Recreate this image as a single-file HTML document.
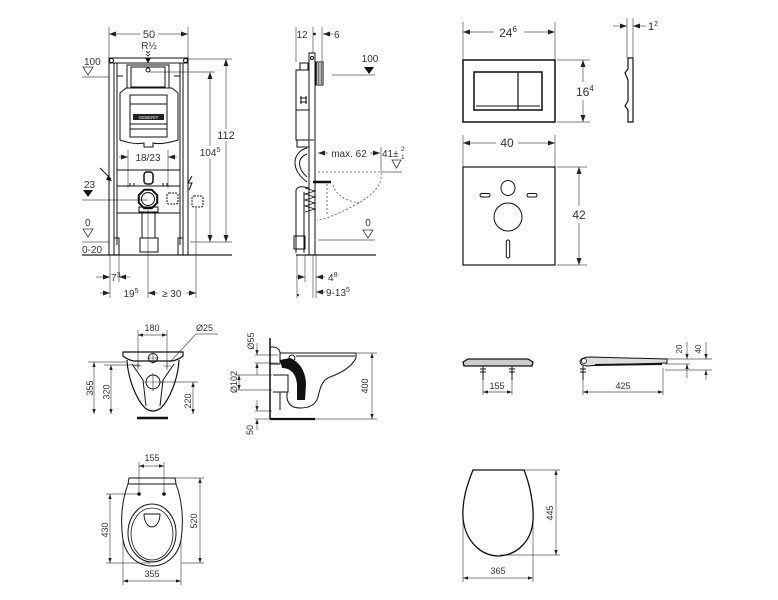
<!DOCTYPE html>
<html><head><meta charset="utf-8"><style>
html,body{margin:0;padding:0;background:#fff;}
svg{display:block;}
text{font-family:"Liberation Sans",sans-serif;fill:#333;}
.d{stroke:#555;stroke-width:0.7;fill:none;}
.o{stroke:#111;stroke-width:1;fill:none;}
</style></head><body>
<svg width="778" height="600" viewBox="0 0 778 600" xmlns="http://www.w3.org/2000/svg">
<defs>
<marker id="a" viewBox="0 0 7 5" refX="7" refY="2.5" markerWidth="7" markerHeight="5" orient="auto-start-reverse" markerUnits="userSpaceOnUse"><path d="M0,0L7,2.5L0,5z" fill="#222"/></marker>
<marker id="b" viewBox="0 0 5 3.4" refX="5" refY="1.7" markerWidth="5" markerHeight="3.4" orient="auto-start-reverse" markerUnits="userSpaceOnUse"><path d="M0,0L5,1.7L0,3.4z" fill="#222"/></marker>
</defs>
<rect width="778" height="600" fill="#fff"/>

<!-- ============ FRAME FRONT VIEW ============ -->
<g class="d">
<line x1="109" y1="27" x2="109" y2="58"/>
<line x1="188" y1="27" x2="188" y2="58"/>
<line x1="140" y1="34" x2="109" y2="34" marker-end="url(#a)"/>
<line x1="158" y1="34" x2="188" y2="34" marker-end="url(#a)"/>
<line x1="188" y1="59" x2="232" y2="59"/>
<line x1="190" y1="242" x2="232" y2="242"/>
<line x1="226" y1="129" x2="226" y2="59" marker-end="url(#a)"/>
<line x1="226" y1="141" x2="226" y2="242" marker-end="url(#a)"/>
<line x1="150" y1="72" x2="215" y2="72"/>
<line x1="210" y1="146" x2="210" y2="72" marker-end="url(#a)"/>
<line x1="210" y1="158" x2="210" y2="242" marker-end="url(#a)"/>
<line x1="82" y1="77" x2="109" y2="77"/>
<line x1="82" y1="200" x2="148" y2="200"/>
<line x1="82" y1="242" x2="109" y2="242"/>
<line x1="119" y1="157" x2="128" y2="157" marker-end="url(#a)"/>
<line x1="177" y1="157" x2="168" y2="157" marker-end="url(#a)"/>
<line x1="128" y1="150" x2="128" y2="188"/>
<line x1="168" y1="150" x2="168" y2="188"/>
<line x1="110" y1="255" x2="110" y2="298"/>
<line x1="119" y1="255" x2="119" y2="282"/>
<line x1="148" y1="210" x2="148" y2="298"/>
<line x1="196" y1="208" x2="196" y2="298"/>
<line x1="96" y1="277" x2="110" y2="277" marker-end="url(#a)"/>
<line x1="130" y1="277" x2="119" y2="277" marker-end="url(#a)"/>
<line x1="100" y1="293" x2="110" y2="293" marker-end="url(#a)"/>
<line x1="158" y1="293" x2="148" y2="293" marker-end="url(#a)"/>
<line x1="186" y1="293" x2="196" y2="293" marker-end="url(#a)"/>
</g>
<line x1="82" y1="255" x2="232" y2="255" stroke="#222" stroke-width="1.2"/>
<path d="M83,67L93,67L88,75z" fill="none" stroke="#333" stroke-width="0.8"/>
<path d="M83,190L93,190L88,197z" fill="#111"/>
<path d="M83,229L93,229L88,237z" fill="none" stroke="#333" stroke-width="0.8"/>
<text x="149" y="38" font-size="11" text-anchor="middle">50</text>
<text x="149" y="49" font-size="10" text-anchor="middle">R½</text>
<text x="84" y="65" font-size="10">100</text>
<text x="84" y="188" font-size="10">23</text>
<text x="85" y="226" font-size="10">0</text>
<text x="82" y="253" font-size="10">0-20</text>
<text x="226" y="139" font-size="11" text-anchor="middle">112</text>
<text x="210" y="156" font-size="10" text-anchor="middle">104<tspan font-size="7" dy="-4">5</tspan></text>
<text x="148" y="161" font-size="10" text-anchor="middle">18/23</text>
<text x="111" y="281" font-size="10">7<tspan font-size="7" dy="-4">3</tspan></text>
<text x="131" y="297" font-size="10" text-anchor="middle">19<tspan font-size="7" dy="-4">5</tspan></text>
<text x="162" y="297" font-size="10">≥ 30</text>
<g class="o">
<rect x="109" y="58" width="79" height="5"/>
<rect x="109" y="63" width="5" height="192"/>
<rect x="183" y="63" width="5" height="192"/>
<line x1="117" y1="63" x2="117" y2="245"/>
<line x1="180" y1="63" x2="180" y2="245"/>
<circle cx="111.5" cy="60.5" r="2"/>
<circle cx="185.5" cy="60.5" r="2"/>
<rect x="127" y="65" width="42" height="23"/>
<rect x="131" y="67" width="34" height="20"/>
<line x1="117" y1="76" x2="123" y2="76"/>
<line x1="174" y1="76" x2="180" y2="76"/>
<circle cx="148" cy="70" r="2"/>
<path d="M120,93L126,88L172,88L178,93L178,140Q162,145 153,143L153,147L144,147L144,143Q134,145 120,140z"/>
<rect x="130" y="95" width="37" height="42"/>
<line x1="130" y1="104" x2="167" y2="104"/>
<line x1="130" y1="124" x2="167" y2="124"/>
<line x1="130" y1="129" x2="167" y2="129"/>
<line x1="117" y1="170" x2="180" y2="170"/>
<line x1="117" y1="186" x2="180" y2="186"/>
<line x1="117" y1="213" x2="180" y2="213"/>
<line x1="130" y1="183" x2="130" y2="186"/><line x1="134" y1="183" x2="134" y2="186"/>
<line x1="163" y1="183" x2="163" y2="186"/><line x1="167" y1="183" x2="167" y2="186"/>
<rect x="144" y="172" width="9" height="12" rx="3" stroke-width="1.5"/>
<polygon points="157.2,202.8 151.8,208.2 144.2,208.2 138.8,202.8 138.8,195.2 144.2,189.8 151.8,189.8 157.2,195.2" stroke-width="2"/>
<circle cx="148" cy="199" r="6.5"/>
<rect x="139" y="207" width="19" height="5"/>
<rect x="142" y="213" width="13" height="25"/>
<rect x="140" y="238" width="18" height="14"/>
<rect x="114" y="238" width="5" height="17"/>
<rect x="178" y="238" width="5" height="17"/>
<rect x="167" y="193" width="11" height="11" rx="2" stroke-dasharray="2,1"/>
<rect x="192" y="196" width="11" height="11" rx="2" stroke-dasharray="2,1"/>
<path d="M192,176L188,183L192,183L189,190"/>
<path d="M100,168L111,179"/>
</g>
<rect x="133" y="114" width="31" height="6" fill="#222"/>
<text x="148.5" y="119" font-size="4.5" text-anchor="middle" style="fill:#fff">GEBERIT</text>
<path d="M145,58L151,58L148,63z" fill="#111"/>
<path d="M146,51L148,53L150,51M146,54L148,56L150,54" stroke="#111" stroke-width="0.8" fill="none"/>
<path d="M108,176L112,181L106,180z" fill="#111"/>

<!-- ============ FRAME SIDE VIEW ============ -->
<g class="d">
<line x1="296" y1="27" x2="296" y2="62"/>
<line x1="313" y1="27" x2="313" y2="53"/>
<line x1="322" y1="27" x2="322" y2="62"/>
<line x1="333" y1="34" x2="323" y2="34" marker-end="url(#a)"/>
<line x1="332" y1="75" x2="375" y2="75"/>
<line x1="328" y1="153" x2="318" y2="153" marker-end="url(#a)"/>
<line x1="370" y1="153" x2="380" y2="153" marker-end="url(#a)"/>
<line x1="381" y1="147" x2="381" y2="172"/>
<line x1="381" y1="172" x2="402" y2="172"/>
<line x1="318" y1="240" x2="375" y2="240"/>
<line x1="297" y1="255" x2="297" y2="298"/>
<line x1="305" y1="255" x2="305" y2="282"/>
<line x1="313" y1="255" x2="313" y2="298"/>
<line x1="316" y1="255" x2="316" y2="298"/>
<line x1="296" y1="277" x2="305" y2="277" marker-end="url(#a)"/>
<line x1="325" y1="277" x2="316" y2="277" marker-end="url(#a)"/>
<line x1="325" y1="292" x2="316" y2="292" marker-end="url(#a)"/>
</g>
<line x1="296" y1="255" x2="376" y2="255" stroke="#222" stroke-width="1.2"/>
<circle cx="314.5" cy="34" r="1.4" fill="#222"/>
<circle cx="298" cy="295" r="1" fill="#222"/>
<text x="302" y="38" font-size="10" text-anchor="middle">12</text>
<text x="334" y="38" font-size="10">6</text>
<text x="370" y="62" font-size="10" text-anchor="middle">100</text>
<path d="M364,67L374,67L369,74z" fill="#111"/>
<text x="349" y="157" font-size="10" text-anchor="middle">max. 62</text>
<text x="382" y="157" font-size="10">41±</text>
<text x="401" y="151" font-size="6.5">2</text>
<text x="401" y="159" font-size="6.5">1</text>
<path d="M392,160L401,160L396.5,168z" fill="none" stroke="#333" stroke-width="0.8"/>
<text x="368" y="226" font-size="10" text-anchor="middle">0</text>
<path d="M363,230L373,230L368,238z" fill="none" stroke="#333" stroke-width="0.8"/>
<text x="328" y="281" font-size="10">4<tspan font-size="7" dy="-4">8</tspan></text>
<text x="326" y="296" font-size="10">9-13<tspan font-size="7" dy="-4">5</tspan></text>
<g class="o">
<rect x="309" y="53" width="6" height="202"/>
<circle cx="312" cy="58" r="1.5"/>
<line x1="310" y1="140" x2="314" y2="140"/>
<path d="M300,70L300,63L308,63L308,70M296,70L309,70L309,140L296,140z"/>
<path d="M300,98L307,98M300,102L307,102M301,96L301,104M306,96L306,104"/>
<line x1="296" y1="110" x2="309" y2="110"/>
<path d="M297,140L297,147L309,147"/>
<path d="M307,148C292,152 290,170 307,182M307,154C297,158 297,168 307,177"/>
<rect x="316" y="62" width="7" height="23"/>
<path d="M317,63V84M318.5,63V84M320,63V84M321.5,63V84" stroke-width="0.6"/>
<path d="M296,190L296,253M304,192L304,253M296,190C298,186 302,186 309,188"/>
<rect x="294" y="236" width="11" height="13"/>
<path d="M305,188L315,191L305,194L315,197L305,200L315,203L305,206L315,209L305,212" stroke-width="0.8"/>
</g>
<line x1="313" y1="182" x2="331" y2="182" stroke="#111" stroke-width="2.5"/>
<g stroke="#555" stroke-width="0.8" fill="none" stroke-dasharray="2,2">
<path d="M318,172L381,172C383,185 372,196 355,205C342,212 330,218 317,220"/>
<path d="M333,185C336,195 345,201 360,203"/>
<path d="M327,184L327,214"/>
</g>

<!-- ============ FLUSH PLATE ============ -->
<g class="d">
<line x1="463" y1="22" x2="463" y2="60"/>
<line x1="555" y1="22" x2="555" y2="60"/>
<line x1="494" y1="32" x2="463" y2="32" marker-end="url(#a)"/>
<line x1="524" y1="32" x2="555" y2="32" marker-end="url(#a)"/>
<line x1="557" y1="60" x2="590" y2="60"/>
<line x1="557" y1="122" x2="590" y2="122"/>
<line x1="583" y1="82" x2="583" y2="60" marker-end="url(#a)"/>
<line x1="583" y1="100" x2="583" y2="122" marker-end="url(#a)"/>
<line x1="627" y1="18" x2="627" y2="58"/>
<line x1="633" y1="18" x2="633" y2="58"/>
<line x1="613" y1="26" x2="627" y2="26" marker-end="url(#a)"/>
<line x1="646" y1="26" x2="633" y2="26" marker-end="url(#a)"/>
<line x1="463" y1="135" x2="463" y2="167"/>
<line x1="555" y1="135" x2="555" y2="167"/>
<line x1="496" y1="143" x2="463" y2="143" marker-end="url(#a)"/>
<line x1="518" y1="143" x2="555" y2="143" marker-end="url(#a)"/>
<line x1="557" y1="167" x2="587" y2="167"/>
<line x1="557" y1="265" x2="587" y2="265"/>
<line x1="579" y1="206" x2="579" y2="167" marker-end="url(#a)"/>
<line x1="579" y1="223" x2="579" y2="265" marker-end="url(#a)"/>
</g>
<text x="508" y="37" font-size="12" text-anchor="middle">24<tspan font-size="8" dy="-5">6</tspan></text>
<text x="576" y="96" font-size="12">16<tspan font-size="8" dy="-5">4</tspan></text>
<text x="648" y="30" font-size="11">1<tspan font-size="7" dy="-4">2</tspan></text>
<text x="507" y="147" font-size="12" text-anchor="middle">40</text>
<text x="579" y="219" font-size="12" text-anchor="middle">42</text>
<g class="o">
<rect x="463" y="60" width="92" height="62" stroke-width="1.5"/>
<rect x="474" y="72" width="68" height="38" stroke-width="1.5"/>
<line x1="518" y1="72" x2="518" y2="110" stroke-width="1.2"/>
<path d="M476,106L540,106"/>
<path d="M628,58L633,58L633,122L628,122L628,110L625,106L628,101L628,80L625,73L628,69z" stroke-width="1.2"/>
<rect x="463" y="167" width="92" height="98" stroke-width="1.2"/>
<ellipse cx="508" cy="188" rx="7" ry="7.5"/>
<rect x="480" y="193.5" width="10" height="3.5" rx="1.7"/>
<rect x="527" y="193.5" width="10" height="3.5" rx="1.7"/>
<circle cx="508" cy="217" r="14"/>
<rect x="506.3" y="240" width="3.4" height="18" rx="1.7"/>
</g>

<!-- ============ BOWL FRONT ============ -->
<g class="d">
<line x1="138" y1="330" x2="138" y2="368"/>
<line x1="167" y1="330" x2="167" y2="368"/>
<line x1="138" y1="335" x2="167" y2="335" marker-start="url(#b)" marker-end="url(#b)"/>
<polyline points="218,334 196,334 170,362"/>
<line x1="88" y1="362" x2="126" y2="362"/>
<line x1="104" y1="365" x2="140" y2="365"/>
<line x1="160" y1="382" x2="198" y2="382"/>
<line x1="94" y1="362" x2="94" y2="414" marker-start="url(#b)" marker-end="url(#b)"/>
<line x1="111" y1="365" x2="111" y2="414" marker-start="url(#b)" marker-end="url(#b)"/>
<line x1="193" y1="382" x2="193" y2="414" marker-start="url(#b)" marker-end="url(#b)"/>
</g>
<text x="152" y="331" font-size="9" text-anchor="middle">180</text>
<text x="196" y="331" font-size="9">Ø25</text>
<text x="93" y="388" font-size="9" text-anchor="middle" transform="rotate(-90 93 388)">355</text>
<text x="109.5" y="392" font-size="9" text-anchor="middle" transform="rotate(-90 109.5 392)">320</text>
<text x="191" y="401" font-size="9" text-anchor="middle" transform="rotate(-90 191 401)">220</text>
<g class="o">
<path d="M123,352L183,352L183,356Q178,360 172,361L134,361Q128,360 123,356z" stroke-width="1.2"/>
<path d="M127,360C128,380 137,400 145,408Q153,414 161,408C169,400 178,380 179,360" stroke-width="1.2"/>
<path d="M132,364L143,380L146,406M174,364L163,380L160,406"/>
<circle cx="153" cy="358" r="4.5"/>
<circle cx="153" cy="382" r="7"/>
</g>
<g stroke="#333" stroke-width="0.6">
<path d="M147,358H159M153,352V364M144,382H162M153,373V391M134,366H142M138,362V370M163,366H171M167,362V370"/>
</g>
<line x1="137" y1="418" x2="168" y2="418" stroke="#111" stroke-width="2.5"/>

<!-- ============ BOWL SIDE ============ -->
<g class="d">
<line x1="255" y1="355" x2="278" y2="355"/>
<line x1="255" y1="363" x2="278" y2="363"/>
<line x1="257" y1="343" x2="257" y2="355" marker-end="url(#b)"/>
<line x1="257" y1="375" x2="257" y2="363" marker-end="url(#b)"/>
<line x1="236" y1="375" x2="272" y2="375"/>
<line x1="236" y1="390" x2="272" y2="390"/>
<line x1="239" y1="375" x2="239" y2="390" marker-start="url(#b)" marker-end="url(#b)"/>
<line x1="255" y1="411" x2="272" y2="411"/>
<line x1="255" y1="419" x2="270" y2="419"/>
<line x1="257" y1="400" x2="257" y2="411" marker-end="url(#b)"/>
<line x1="257" y1="430" x2="257" y2="419" marker-end="url(#b)"/>
<line x1="357" y1="353" x2="377" y2="353"/>
<line x1="315" y1="419" x2="377" y2="419"/>
<line x1="372" y1="353" x2="372" y2="419" marker-start="url(#b)" marker-end="url(#b)"/>
</g>
<text x="254" y="341" font-size="9" text-anchor="middle" transform="rotate(-90 254 341)">Ø55</text>
<text x="237" y="382" font-size="9" text-anchor="middle" transform="rotate(-90 237 382)">Ø102</text>
<text x="253" y="430" font-size="9" text-anchor="middle" transform="rotate(-90 253 430)">50</text>
<text x="368" y="386" font-size="9" text-anchor="middle" transform="rotate(-90 368 386)">400</text>
<line x1="270" y1="338" x2="270" y2="419" stroke="#111" stroke-width="1.5"/>
<line x1="270" y1="419" x2="315" y2="419" stroke="#111" stroke-width="2.2"/>
<g class="o" stroke-width="1.2">
<path d="M280,353L356,353L356,358C352,366 344,372 330,377C322,380 320,388 318,397C316,404 310,408 300,408C292,408 288,404 287,398L287,392"/>
<path d="M296,356L355,356"/>
<path d="M270,347Q278,346 280,352L280,364L270,364"/>
<path d="M273,375L288,375L288,392L273,392"/>
<path d="M280,392L280,410"/>
<circle cx="292" cy="358" r="3"/>
</g>
<path d="M280,360L290,358C300,362 306,372 306,385L305,400L297,400L297,386C297,376 292,368 282,368z" fill="#111"/>

<!-- ============ SEAT SIDE VIEWS ============ -->
<g class="d">
<line x1="483" y1="378" x2="483" y2="395"/>
<line x1="512" y1="378" x2="512" y2="395"/>
<line x1="483" y1="392" x2="512" y2="392" marker-start="url(#b)" marker-end="url(#b)"/>
<line x1="583" y1="380" x2="583" y2="395"/>
<line x1="663" y1="368" x2="663" y2="395"/>
<line x1="583" y1="392" x2="663" y2="392" marker-start="url(#b)" marker-end="url(#b)"/>
<line x1="665" y1="359" x2="712" y2="359"/>
<line x1="665" y1="364" x2="690" y2="364"/>
<line x1="665" y1="370" x2="712" y2="370"/>
<line x1="687" y1="342" x2="687" y2="359" marker-end="url(#b)"/>
<line x1="687" y1="378" x2="687" y2="364" marker-end="url(#b)"/>
<line x1="706" y1="342" x2="706" y2="359" marker-end="url(#b)"/>
<line x1="706" y1="380" x2="706" y2="370" marker-end="url(#b)"/>
</g>
<text x="497" y="389" font-size="9" text-anchor="middle">155</text>
<text x="623" y="389" font-size="9" text-anchor="middle">425</text>
<text x="682" y="349" font-size="8" text-anchor="middle" transform="rotate(-90 682 349)">20</text>
<text x="701" y="349" font-size="8" text-anchor="middle" transform="rotate(-90 701 349)">40</text>
<path d="M463,362L468,359L528,359L533,362L532,366L464,366z" fill="#ccc" stroke="#111" stroke-width="1.3"/>
<g stroke="#111" stroke-width="1" fill="none">
<path d="M483,366V380M512,366V380M480,369H486M480,372H486M509,369H515M509,372H515"/>
<path d="M583,366V380M580,369H586M580,372H586"/>
</g>
<path d="M580,361Q582,357 590,357L667,359L667,363L600,365L588,366Q580,366 580,361z" fill="#ddd" stroke="#111" stroke-width="1"/>
<line x1="595" y1="365" x2="662" y2="364" stroke="#111" stroke-width="2"/>
<circle cx="584" cy="361" r="2.5" fill="#fff" stroke="#111" stroke-width="0.8"/>

<!-- ============ BOWL TOP ============ -->
<g class="d">
<line x1="139" y1="462" x2="139" y2="494"/>
<line x1="164" y1="462" x2="164" y2="494"/>
<line x1="139" y1="466" x2="164" y2="466" marker-start="url(#b)" marker-end="url(#b)"/>
<line x1="175" y1="478" x2="204" y2="478"/>
<line x1="181" y1="563" x2="204" y2="563"/>
<line x1="200" y1="478" x2="200" y2="563" marker-start="url(#b)" marker-end="url(#b)"/>
<line x1="106" y1="494" x2="137" y2="494"/>
<line x1="106" y1="563" x2="150" y2="563"/>
<line x1="110" y1="494" x2="110" y2="563" marker-start="url(#b)" marker-end="url(#b)"/>
<line x1="123" y1="540" x2="123" y2="585"/>
<line x1="181" y1="540" x2="181" y2="585"/>
<line x1="123" y1="581" x2="181" y2="581" marker-start="url(#b)" marker-end="url(#b)"/>
</g>
<text x="152" y="461" font-size="9" text-anchor="middle">155</text>
<text x="197" y="521" font-size="9" text-anchor="middle" transform="rotate(-90 197 521)">520</text>
<text x="108" y="530" font-size="9" text-anchor="middle" transform="rotate(-90 108 530)">430</text>
<text x="152" y="577" font-size="9" text-anchor="middle">355</text>
<g class="o" stroke-width="1.2">
<path d="M129,478L175,478L176,484C182,500 184,520 181,540C178,556 166,566 152,566C138,566 126,556 123,540C120,520 122,500 128,484z"/>
<line x1="128" y1="484" x2="176" y2="484"/>
<ellipse cx="152" cy="533" rx="24" ry="29"/>
<ellipse cx="152" cy="534" rx="21" ry="26" stroke-width="0.8"/>
<path d="M144,514L160,514C160,522 156,527 152,527C148,527 144,522 144,514z" stroke-width="0.9"/>
</g>
<circle cx="139" cy="494" r="1.8" fill="#111"/>
<circle cx="164" cy="494" r="1.8" fill="#111"/>

<!-- ============ SEAT TOP ============ -->
<g class="d">
<line x1="524" y1="470" x2="560" y2="470"/>
<line x1="500" y1="555" x2="560" y2="555"/>
<line x1="556" y1="470" x2="556" y2="555" marker-start="url(#b)" marker-end="url(#b)"/>
<line x1="463" y1="518" x2="463" y2="582"/>
<line x1="533" y1="518" x2="533" y2="582"/>
<line x1="463" y1="578" x2="533" y2="578" marker-start="url(#b)" marker-end="url(#b)"/>
</g>
<text x="553" y="513" font-size="9" text-anchor="middle" transform="rotate(-90 553 513)">445</text>
<text x="498" y="574" font-size="9" text-anchor="middle">365</text>
<path d="M473,470L524,470C530,485 534,505 533,520C532,540 518,555 499,556C480,556 465,540 463,518C462,500 467,485 473,470z" fill="none" stroke="#111" stroke-width="1.3"/>
</svg>
</body></html>
